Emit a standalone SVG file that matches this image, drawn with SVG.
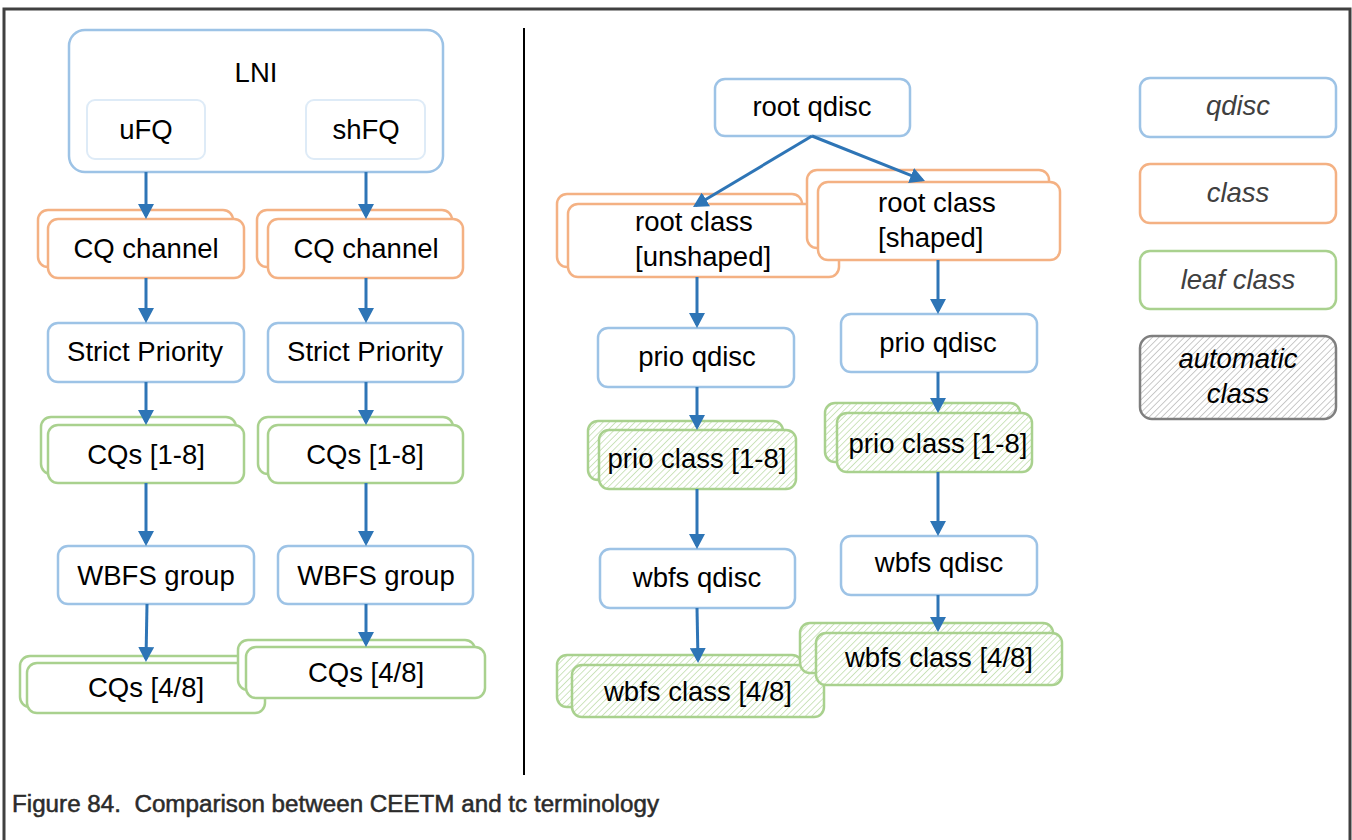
<svg xmlns="http://www.w3.org/2000/svg" width="1352" height="840" viewBox="0 0 1352 840">
  <style>
    text { font-family: "Liberation Sans", Arial, sans-serif; font-size: 27.5px; fill: #000; }
    .c { text-anchor: middle; }
    .leg { font-style: italic; fill: #404040; }
    .q { fill: #fff; stroke: #9DC3E6; stroke-width: 2.5; }
    .qi { fill: #fff; stroke: #DEEBF7; stroke-width: 2; }
    .k { fill: #fff; stroke: #F4B183; stroke-width: 2.5; }
    .l { fill: #fff; stroke: #A9D18E; stroke-width: 2.5; }
    .h { fill: url(#hatchG); stroke: #A9D18E; stroke-width: 2.5; }
    .hg { fill: url(#hatchK); stroke: #7F7F7F; stroke-width: 2.5; }
    .a { stroke: #2E75B6; stroke-width: 3; fill: none; marker-end: url(#arr); }
    .frame { stroke: #404040; stroke-width: 3; fill: none; }
    .cap { font-size: 23px; fill: #2b2b2b; stroke: #2b2b2b; stroke-width: 0.5; white-space: pre; }
  </style>
  <defs>
    <marker id="arr" markerUnits="userSpaceOnUse" markerWidth="16" markerHeight="16" refX="12" refY="8" orient="auto">
      <path d="M0,0 L15,8 L0,16 z" fill="#2E75B6"/>
    </marker>
    <pattern id="hatchG" patternUnits="userSpaceOnUse" width="4.5" height="4.5" patternTransform="rotate(45)">
      <rect width="4.5" height="4.5" fill="#fff"/>
      <line x1="0" y1="0" x2="0" y2="4.5" stroke="#BEDCAA" stroke-width="1.5"/>
    </pattern>
    <pattern id="hatchK" patternUnits="userSpaceOnUse" width="4.5" height="4.5" patternTransform="rotate(45)">
      <rect width="4.5" height="4.5" fill="#fff"/>
      <line x1="0" y1="0" x2="0" y2="4.5" stroke="#B8B8B8" stroke-width="1.5"/>
    </pattern>
  </defs>
  <rect width="1352" height="840" fill="#fff"/>
  <path class="frame" d="M4,842 V9 H1350 V842"/>
  <line x1="524" y1="28" x2="524" y2="775" stroke="#000" stroke-width="2"/>

  <!-- Left: CEETM -->
  <g id="lni">
    <rect class="q" x="69" y="30" width="374" height="142" rx="16" stroke-width="3"/>
    <text class="c" x="256" y="82">LNI</text>
  </g>
  <g id="ufq">
    <rect class="qi" x="87" y="100" width="118" height="59" rx="8"/>
    <text class="c" x="146" y="139">uFQ</text>
  </g>
  <g id="shfq">
    <rect class="qi" x="306" y="100" width="119" height="59" rx="8"/>
    <text class="c" x="366" y="139">shFQ</text>
  </g>
  <g id="cqch-l">
    <rect class="k" x="38" y="210" width="195" height="57" rx="10"/>
    <rect class="k" x="48" y="219" width="196" height="59" rx="10"/>
    <text class="c" x="146" y="258">CQ channel</text>
  </g>
  <g id="cqch-r">
    <rect class="k" x="257" y="210" width="195" height="57" rx="10"/>
    <rect class="k" x="268" y="219" width="195" height="59" rx="10"/>
    <text class="c" x="366" y="258">CQ channel</text>
  </g>
  <g id="sp-l">
    <rect class="q" x="48" y="323" width="196" height="59" rx="10"/>
    <text class="c" x="145" y="361">Strict Priority</text>
  </g>
  <g id="sp-r">
    <rect class="q" x="268" y="323" width="195" height="59" rx="10"/>
    <text class="c" x="365" y="361">Strict Priority</text>
  </g>
  <g id="cq18-l">
    <rect class="l" x="41" y="417" width="195" height="57" rx="10"/>
    <rect class="l" x="48" y="425" width="196" height="58" rx="10"/>
    <text class="c" x="146" y="464">CQs [1-8]</text>
  </g>
  <g id="cq18-r">
    <rect class="l" x="258" y="417" width="195" height="57" rx="10"/>
    <rect class="l" x="268" y="425" width="195" height="58" rx="10"/>
    <text class="c" x="365" y="464">CQs [1-8]</text>
  </g>
  <g id="wbfs-l">
    <rect class="q" x="58" y="546" width="196" height="58" rx="10"/>
    <text class="c" x="156" y="585">WBFS group</text>
  </g>
  <g id="wbfs-r">
    <rect class="q" x="278" y="546" width="195" height="58" rx="10"/>
    <text class="c" x="376" y="585">WBFS group</text>
  </g>
  <g id="cq48-l">
    <rect class="l" x="20" y="656" width="240" height="51" rx="10"/>
    <rect class="l" x="27" y="663" width="238" height="50" rx="10"/>
    <text class="c" x="146" y="697">CQs [4/8]</text>
  </g>
  <g id="cq48-r">
    <rect class="l" x="238" y="640" width="237" height="50" rx="10"/>
    <rect class="l" x="246" y="647" width="239" height="51" rx="10"/>
    <text class="c" x="366" y="682">CQs [4/8]</text>
  </g>

  <!-- Right: tc -->
  <g id="rootq">
    <rect class="q" x="715" y="79" width="195" height="57" rx="10"/>
    <text class="c" x="812" y="116">root qdisc</text>
  </g>
  <g id="rc-u">
    <rect class="k" x="557" y="194" width="245" height="73" rx="10"/>
    <rect class="k" x="568" y="204" width="271" height="73" rx="10"/>
    <text x="635" y="231">root class</text>
    <text x="635" y="266">[unshaped]</text>
  </g>
  <g id="rc-s">
    <rect class="k" x="807" y="170" width="242" height="78" rx="10"/>
    <rect class="k" x="818" y="182" width="242" height="78" rx="10"/>
    <text x="878" y="212">root class</text>
    <text x="878" y="247">[shaped]</text>
  </g>
  <g id="pq-l">
    <rect class="q" x="598" y="328" width="196" height="59" rx="10"/>
    <text class="c" x="697" y="366">prio qdisc</text>
  </g>
  <g id="pq-r">
    <rect class="q" x="841" y="314" width="196" height="58" rx="10"/>
    <text class="c" x="938" y="352">prio qdisc</text>
  </g>
  <g id="pc-l">
    <rect class="h" x="588" y="421" width="195" height="59" rx="10"/>
    <rect class="h" x="599" y="430" width="197" height="59" rx="10"/>
    <text class="c" x="697" y="468">prio class [1-8]</text>
  </g>
  <g id="pc-r">
    <rect class="h" x="825" y="403" width="195" height="59" rx="10"/>
    <rect class="h" x="837" y="413" width="195" height="59" rx="10"/>
    <text class="c" x="938" y="453">prio class [1-8]</text>
  </g>
  <g id="wq-l">
    <rect class="q" x="600" y="549" width="195" height="59" rx="10"/>
    <text class="c" x="697" y="587">wbfs qdisc</text>
  </g>
  <g id="wq-r">
    <rect class="q" x="841" y="536" width="196" height="59" rx="10"/>
    <text class="c" x="939" y="572">wbfs qdisc</text>
  </g>
  <g id="wc-l">
    <rect class="h" x="557" y="655" width="245" height="52" rx="10"/>
    <rect class="h" x="572" y="665" width="252" height="52" rx="10"/>
    <text class="c" x="698" y="701">wbfs class [4/8]</text>
  </g>
  <g id="wc-r">
    <rect class="h" x="800" y="623" width="253" height="50" rx="10"/>
    <rect class="h" x="816" y="633" width="246" height="52" rx="10"/>
    <text class="c" x="939" y="667">wbfs class [4/8]</text>
  </g>

  <!-- Legend -->
  <g id="leg-qdisc">
    <rect class="q" x="1140" y="78" width="196" height="59" rx="10"/>
    <text class="c leg" x="1238" y="115">qdisc</text>
  </g>
  <g id="leg-class">
    <rect class="k" x="1140" y="164" width="196" height="59" rx="10"/>
    <text class="c leg" x="1238" y="202">class</text>
  </g>
  <g id="leg-leaf">
    <rect class="l" x="1140" y="251" width="196" height="58" rx="10"/>
    <text class="c leg" x="1238" y="289">leaf class</text>
  </g>
  <g id="leg-auto">
    <rect class="hg" x="1140" y="336" width="196" height="83" rx="12"/>
    <text class="c" x="1238" y="368" font-style="italic">automatic</text>
    <text class="c" x="1238" y="403" font-style="italic">class</text>
  </g>

  <g id="connectors">
    <line class="a" x1="146" y1="172" x2="146" y2="216"/>
    <line class="a" x1="366" y1="172" x2="366" y2="216"/>
    <line class="a" x1="146" y1="278" x2="146" y2="320"/>
    <line class="a" x1="366" y1="278" x2="366" y2="320"/>
    <line class="a" x1="146" y1="382" x2="146" y2="422"/>
    <line class="a" x1="366" y1="382" x2="366" y2="422"/>
    <line class="a" x1="146" y1="483" x2="146" y2="543"/>
    <line class="a" x1="366" y1="483" x2="366" y2="543"/>
    <line class="a" x1="147" y1="604" x2="146" y2="659"/>
    <line class="a" x1="366" y1="604" x2="366" y2="644"/>

    <line class="a" x1="812" y1="136" x2="695.6" y2="205.5"/>
    <line class="a" x1="812" y1="136" x2="922.2" y2="179.9"/>
    <line class="a" x1="697" y1="277" x2="697" y2="325"/>
    <line class="a" x1="938" y1="260" x2="938" y2="311"/>
    <line class="a" x1="697" y1="387" x2="697" y2="427"/>
    <line class="a" x1="938" y1="372" x2="938" y2="410"/>
    <line class="a" x1="697" y1="489" x2="697" y2="546"/>
    <line class="a" x1="938" y1="472" x2="938" y2="533"/>
    <line class="a" x1="697" y1="608" x2="698" y2="660"/>
    <line class="a" x1="938" y1="595" x2="938" y2="629"/>
  </g>

  <text class="cap" x="12" y="812" textLength="647" lengthAdjust="spacingAndGlyphs">Figure 84.  Comparison between CEETM and tc terminology</text>
</svg>
